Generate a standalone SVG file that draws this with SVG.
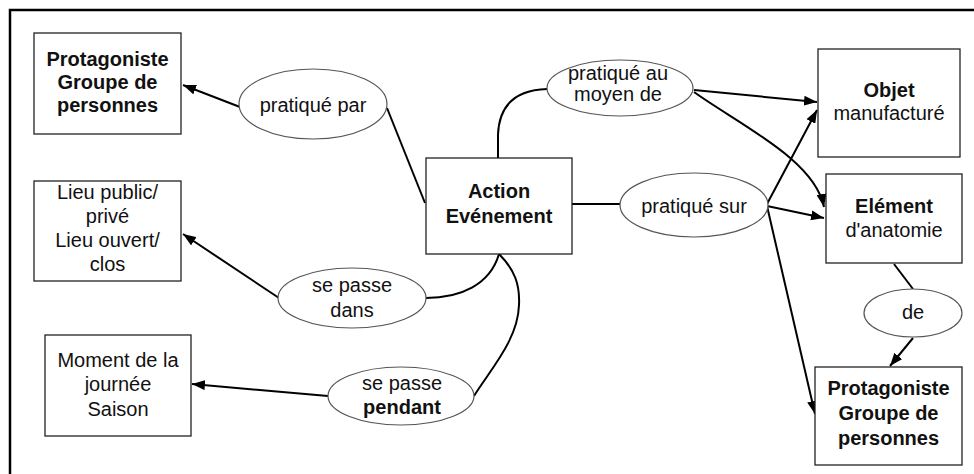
<svg xmlns="http://www.w3.org/2000/svg" width="974" height="474" viewBox="0 0 974 474">
<style>
  .box{fill:#fff;stroke:#222;stroke-width:1.3}
  .ell{fill:#fff;stroke:#555;stroke-width:1.2}
  .t{font-family:"Liberation Sans",Arial,sans-serif;font-size:20px;fill:#111;text-anchor:middle}
  .b{font-weight:bold}
  .c{fill:none;stroke:#000;stroke-width:2}
</style>
<defs>
  <marker id="ah" markerUnits="userSpaceOnUse" markerWidth="14" markerHeight="10" refX="13" refY="5" orient="auto">
    <path d="M0,0 L13,5 L0,10 z" fill="#000"/>
  </marker>
</defs>
<rect width="974" height="474" fill="#fff"/>
<path d="M10,474 V10 H974" fill="none" stroke="#000" stroke-width="2.5"/>

<g id="connectors">
  <path class="c" d="M240,107 L183,85" marker-end="url(#ah)"/>
  <path class="c" d="M387,108 L425,203"/>
  <path class="c" d="M279,298 L183,234" marker-end="url(#ah)"/>
  <path class="c" d="M328,396 L192,384" marker-end="url(#ah)"/>
  <path class="c" d="M499,254 C490,285 460,298 426,298"/>
  <path class="c" d="M499,254 C515,270 520,285 519,305 C518,340 490,370 474,396"/>
  <path class="c" d="M498,158 L498,135 C499,105 515,90 547,89"/>
  <path class="c" d="M694,90 L817,102" marker-end="url(#ah)"/>
  <path class="c" d="M694,92 C740,125 815,160 824,207" marker-end="url(#ah)"/>
  <path class="c" d="M572,204 L620,204"/>
  <path class="c" d="M767,204 L817,110" marker-end="url(#ah)"/>
  <path class="c" d="M767,206 L824,218" marker-end="url(#ah)"/>
  <path class="c" d="M767,206 L815,414" marker-end="url(#ah)"/>
  <path class="c" d="M894,264 L913,289"/>
  <path class="c" d="M913,338 L890,366" marker-end="url(#ah)"/>
</g>

<g id="protagoniste1">
  <rect class="box" x="34" y="33" width="147" height="101"/>
  <text class="t b" x="107.5" y="66">Protagoniste</text>
  <text class="t b" x="107.5" y="89">Groupe de</text>
  <text class="t b" x="107.5" y="112">personnes</text>
</g>
<g id="lieu">
  <rect class="box" x="34" y="181" width="147" height="100"/>
  <text class="t" x="107.5" y="199">Lieu public/</text>
  <text class="t" x="107.5" y="223">privé</text>
  <text class="t" x="107.5" y="247">Lieu ouvert/</text>
  <text class="t" x="107.5" y="271">clos</text>
</g>
<g id="moment">
  <rect class="box" x="45" y="335" width="146" height="101"/>
  <text class="t" x="118" y="367">Moment de la</text>
  <text class="t" x="118" y="391">journée</text>
  <text class="t" x="118" y="416">Saison</text>
</g>
<g id="action">
  <rect class="box" x="426" y="158" width="146" height="96"/>
  <text class="t b" x="499" y="198">Action</text>
  <text class="t b" x="499" y="223">Evénement</text>
</g>
<g id="objet">
  <rect class="box" x="818" y="49" width="142" height="108"/>
  <text class="t b" x="889" y="97">Objet</text>
  <text class="t" x="889" y="120">manufacturé</text>
</g>
<g id="element">
  <rect class="box" x="826" y="174" width="136" height="89"/>
  <text class="t b" x="894" y="213">Elément</text>
  <text class="t" x="894" y="237">d'anatomie</text>
</g>
<g id="protagoniste2">
  <rect class="box" x="815" y="367" width="147" height="98"/>
  <text class="t b" x="888.5" y="395">Protagoniste</text>
  <text class="t b" x="888.5" y="420">Groupe de</text>
  <text class="t b" x="888.5" y="445">personnes</text>
</g>

<g id="e-pratique-par">
  <ellipse class="ell" cx="313" cy="104" rx="74" ry="35"/>
  <text class="t" x="313" y="112">pratiqué par</text>
</g>
<g id="e-moyen">
  <ellipse class="ell" cx="620" cy="88" rx="73" ry="28"/>
  <text class="t" x="618" y="80">pratiqué au</text>
  <text class="t" x="618" y="101">moyen de</text>
</g>
<g id="e-sur">
  <ellipse class="ell" cx="694" cy="205" rx="74" ry="32"/>
  <text class="t" x="694" y="213">pratiqué sur</text>
</g>
<g id="e-dans">
  <ellipse class="ell" cx="352" cy="298" rx="74" ry="30"/>
  <text class="t" x="352" y="292">se passe</text>
  <text class="t" x="352" y="317">dans</text>
</g>
<g id="e-pendant">
  <ellipse class="ell" cx="401" cy="396" rx="73" ry="29"/>
  <text class="t" x="402" y="390">se passe</text>
  <text class="t b" x="402" y="414">pendant</text>
</g>
<g id="e-de">
  <ellipse class="ell" cx="913" cy="313" rx="49" ry="24"/>
  <text class="t" x="913" y="319">de</text>
</g>
</svg>
